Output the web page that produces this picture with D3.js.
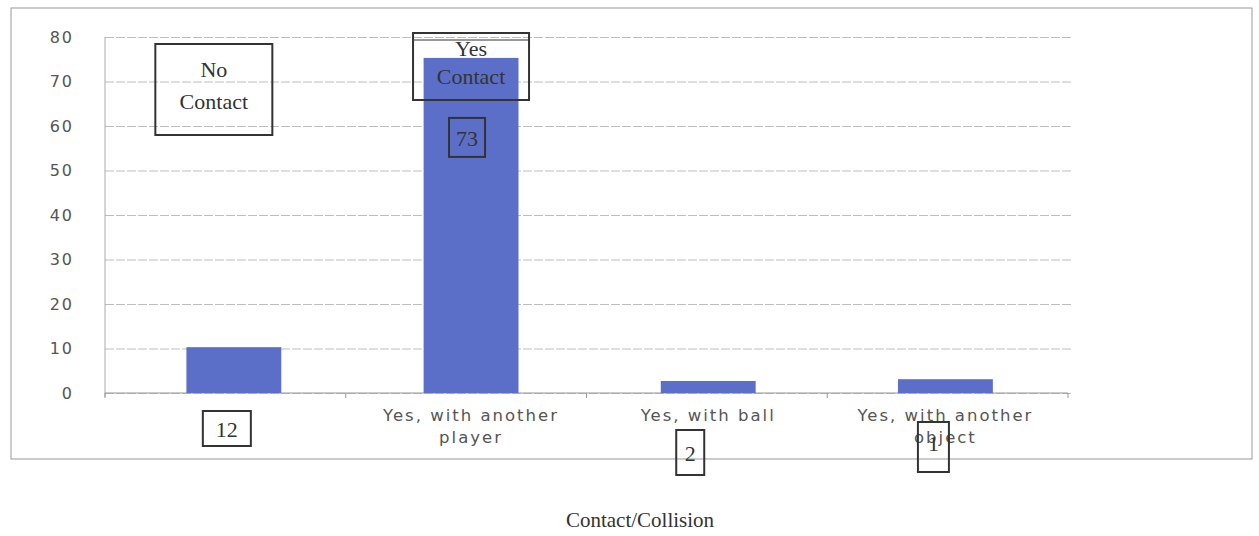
<!DOCTYPE html>
<html>
<head>
  <title>Contact/Collision</title>
  <script src="https://d3js.org/d3.v7.min.js"></script>
  <style>
    body {
      background-color: white;
      margin: 0;
      padding: 0;
      overflow: hidden;
    }
  </style>
</head>
<body>
  <svg width="1259" height="536"></svg>

  <script>
    // data
    const categories = ["No contact", "Yes, with another player", "Yes, with ball", "Yes, with another object"];
    const counts = [10.3, 75.3, 2.7, 3.1];
    const tickLabels = [[""], ["Yes, with another", "player"], ["Yes, with ball"], ["Yes, with another", "object"]];
    const yTicks = [0, 10, 20, 30, 40, 50, 60, 70, 80];
    const boxLabels = ["12", "73", "2", "1"];

    const data = categories.map((c, i) => ({ cat: c, value: counts[i] }));

    const svg = d3.select("svg"),
          margin = { top: 37, right: 191, bottom: 143, left: 105 },
          width = +svg.attr("width") - margin.left - margin.right,
          height = +svg.attr("height") - margin.top - margin.bottom;

    // outer chart frame
    svg.append("rect")
      .attr("x", 11).attr("y", 8)
      .attr("width", 1241).attr("height", 451)
      .attr("fill", "none")
      .attr("stroke", "#999")
      .attr("stroke-width", 1);

    const g = svg.append("g").attr("transform", "translate(" + margin.left + "," + margin.top + ")");

    const xScale = d3.scaleBand()
        .range([0, width])
        .domain(categories)
        .paddingInner(0.6)
        .paddingOuter(0.33)
        .align(0.52);

    // category boundaries for the tick marks
    const xEdges = d3.scaleLinear().domain([0, categories.length]).range([0, width]);

    const yScale = d3.scaleLinear()
        .range([height, 0])
        .domain([0, 80]);

    // gridlines
    g.append("g")
      .call(d3.axisLeft(yScale).tickValues(yTicks).tickSize(-width - 4).tickFormat(""))
      .call(s => s.select(".domain").remove())
      .call(s => s.selectAll("line").attr("stroke", "#bdbdbd").attr("stroke-dasharray", "9,2"));

    // y axis
    const yAxis = g.append("g")
      .call(d3.axisLeft(yScale).tickValues(yTicks).tickSize(0).tickPadding(31));
    yAxis.select(".domain").attr("stroke", "#aaa").attr("d", "M0,0V" + (height + 4));
    yAxis.selectAll("text")
      .attr("font-family", "DejaVu Sans")
      .attr("font-size", "16px")
      .attr("letter-spacing", "2px")
      .attr("fill", "#555");

    // x axis
    const xAxis = g.append("g").attr("transform", "translate(0," + height + ")");
    xAxis.append("line")
      .attr("x1", 0).attr("x2", width)
      .attr("stroke", "#999");
    xAxis.selectAll(".tk")
      .data(d3.range(categories.length + 1))
      .enter().append("line")
        .attr("x1", i => xEdges(i)).attr("x2", i => xEdges(i))
        .attr("y1", 0).attr("y2", 5)
        .attr("stroke", "#999");
    xAxis.selectAll(".xl")
      .data(categories)
      .enter().append("text")
        .attr("text-anchor", "middle")
        .attr("font-family", "DejaVu Sans")
        .attr("font-size", "16.5px")
        .attr("letter-spacing", "2px")
        .attr("fill", "#555")
        .each(function(d, i) {
          const t = d3.select(this);
          tickLabels[i].forEach((line, j) => {
            t.append("tspan")
              .attr("x", xScale(d) + xScale.bandwidth() / 2)
              .attr("y", 28 + j * 22)
              .text(line);
          });
        });

    // bars
    g.selectAll(".bar")
      .data(data)
      .enter().append("rect")
        .attr("class", "bar")
        .attr("x", d => xScale(d.cat))
        .attr("y", d => yScale(d.value))
        .attr("width", xScale.bandwidth())
        .attr("height", d => height - yScale(d.value))
        .attr("fill", "#5c6fc8");

    // hand-drawn annotation boxes
    const serif = "Liberation Serif";
    function box(cx, y, w, h, lines, lineY, size) {
      g.append("rect")
        .attr("x", cx - w / 2).attr("y", y)
        .attr("width", w).attr("height", h)
        .attr("fill", "none")
        .attr("stroke", "#333")
        .attr("stroke-width", 2);
      lines.forEach((l, j) => {
        g.append("text")
          .attr("x", cx).attr("y", lineY[j])
          .attr("text-anchor", "middle")
          .attr("font-family", serif)
          .attr("font-size", size + "px")
          .attr("fill", "#333")
          .text(l);
      });
    }

    const cx = categories.map(c => xScale(c) + xScale.bandwidth() / 2);

    box(cx[0] - 20, 7, 117, 91, ["No", "Contact"], [40, 72], 22);
    box(cx[1], -4, 116, 67, ["Yes", "Contact"], [19, 47], 22);
    g.append("line")
      .attr("x1", cx[1] - 58).attr("x2", cx[1] + 58)
      .attr("y1", 3).attr("y2", 3)
      .attr("stroke", "#333").attr("stroke-width", 1);

    box(cx[0] - 7, height + 18, 48, 35, [boxLabels[0]], [height + 44], 22);
    box(cx[1] - 4, yScale(counts[1]) + 60, 36, 39, [boxLabels[1]], [yScale(counts[1]) + 88], 22);
    box(cx[2] - 18, height + 37, 28, 45, [boxLabels[2]], [height + 68], 22);
    box(cx[3] - 12, height + 29, 31, 50, [boxLabels[3]], [height + 58], 22);

    // title
    svg.append("text")
      .attr("x", 640)
      .attr("y", 527)
      .attr("text-anchor", "middle")
      .attr("font-family", serif)
      .attr("font-size", "21px")
      .attr("fill", "#333")
      .text("Contact/Collision");
  </script>
</body>
</html>
